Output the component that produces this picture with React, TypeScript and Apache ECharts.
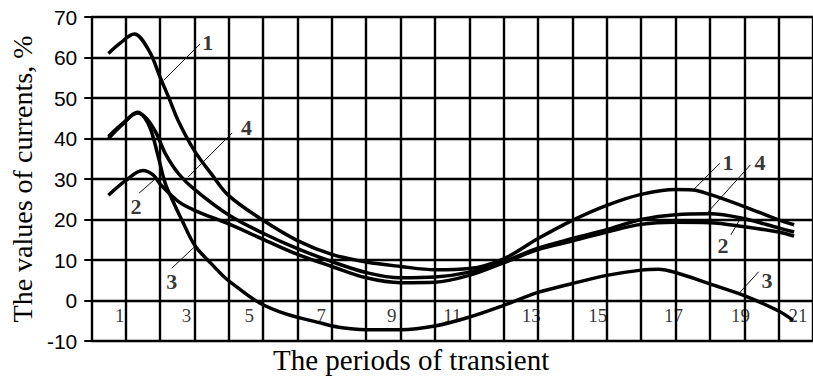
import React, { useEffect, useRef } from "react";
import * as echarts from "echarts";

// x is measured in grid cells (one cell = one vertical grid step), y in %
const curve1: [number, number][] = [
  [0.5, 61], [0.85, 63.6], [1.25, 65.8], [1.68, 61.7], [2.0, 55.2], [2.25, 50.2], [2.53, 44.4],
  [3.0, 37], [3.5, 31.2], [4, 25.9], [5, 19.8], [6, 14.8], [7, 11.4], [8, 9.5], [9, 8.4],
  [10, 7.6], [11, 7.9], [12, 10.3], [13, 15.3], [14, 19.8], [15, 23.5], [16, 26.2], [17, 27.4],
  [17.5, 27.3], [18, 26.2], [19, 23.2], [20, 19.9], [20.45, 18.7],
];
const curve2: [number, number][] = [
  [0.5, 26], [1.0, 29.6], [1.5, 32.1], [1.8, 31], [2.02, 28.6], [2.54, 24.4], [3.02, 22.2],
  [4, 18.9], [5, 15.1], [6, 11.4], [7, 8.4], [8, 5.6], [9, 4.4], [10, 4.5], [11, 6.2],
  [12, 9.3], [13, 12.6], [14, 14.7], [15, 16.9], [16, 18.8], [17, 19.3], [18, 19.2],
  [19, 18.2], [20, 16.9], [20.45, 15.9],
];
const curve3: [number, number][] = [
  [0.5, 40], [0.9, 43.4], [1.35, 46.5], [1.55, 45.2], [1.74, 42], [1.95, 35.5], [2.15, 29],
  [2.35, 25], [2.64, 19.8], [3.02, 13.5], [3.49, 9.1], [3.87, 5.8], [4.24, 3.3], [4.9, -0.6],
  [5.66, -3.3], [6.6, -5.4], [7.2, -6.6], [8, -7.2], [9, -7.2], [10, -6.3], [11, -4.1],
  [12, -1.2], [13, 2.0], [14, 4.2], [15, 6.2], [16, 7.5], [16.5, 7.7], [17, 6.9], [18, 4.1],
  [19, 1.2], [20, -2.6], [20.42, -4.9],
];
const curve4: [number, number][] = [
  [0.5, 40.5], [0.9, 43.6], [1.35, 46.3], [1.6, 45], [1.88, 41.5], [2.16, 36.2], [2.54, 31.3],
  [3.02, 27.3], [4, 21.1], [5, 16.6], [6, 12.8], [7, 9.6], [8, 6.9], [9, 5.6], [10, 5.8],
  [11, 7.0], [12, 9.6], [13, 12.9], [14, 15.3], [15, 17.5], [16, 20], [17, 21.2], [18, 21.4],
  [19, 20.2], [20, 17.9], [20.45, 16.9],
];

// period tick labels drawn inside the plot
const periodLabels = ["1", "3", "5", "7", "9", "11", "13", "15", "17", "19", "21"];
const periodLabelX = [0.83, 2.77, 4.6, 6.69, 8.74, 10.51, 12.8, 14.74, 16.94, 18.89, 20.56];
const periodLabelY = -3.8;

// curve labels: text, label position, leader start, leader end (on the curve)
const curveLabels: { text: string; at: [number, number]; from: [number, number]; to: [number, number] }[] = [
  { text: "1", at: [3.39, 63.8], from: [3.16, 63.3], to: [2.11, 54.4] },
  { text: "4", at: [4.52, 42.8], from: [4.1, 41.4], to: [2.82, 30.5] },
  { text: "2", at: [1.3, 23.2], from: [1.39, 26.5], to: [1.82, 29.7] },
  { text: "3", at: [2.34, 4.6], from: [2.34, 7.95], to: [3.01, 13.3] },
  { text: "1", at: [18.53, 34.0], from: [18.29, 33.9], to: [17.52, 27.3] },
  { text: "4", at: [19.46, 34.0], from: [19.18, 33.5], to: [17.95, 21.9] },
  { text: "2", at: [18.38, 13.7], from: [18.61, 16.2], to: [18.89, 20.3] },
  { text: "3", at: [19.66, 5.06], from: [19.42, 7.1], to: [18.85, 1.8] },
];

const yTitle = "The values of currents, %";
const xTitle = "The periods of transient";

export default function App() {
  const ref = useRef<HTMLDivElement>(null);
  useEffect(() => {
    if (!ref.current) return;
    const chart = echarts.init(ref.current, undefined, { renderer: "svg" });
    const curveSeries = [curve1, curve2, curve3, curve4].map((d, i) => ({
      type: "line",
      name: "curve" + (i + 1),
      data: d,
      smooth: 0.35,
      showSymbol: false,
      symbol: "none",
      lineStyle: { color: "#000", width: 3.5 },
      z: 5,
    }));
    const leaderSeries = curveLabels.map((c, i) => ({
      type: "line",
      name: "leader" + i,
      data: [c.from, c.to],
      symbol: "none",
      lineStyle: { color: "#111", width: 1 },
      z: 4,
    }));
    const gridLine = { show: true, lineStyle: { color: "#000000", width: 2.4, opacity: 1, type: "solid" } };
    chart.setOption({
      animation: false,
      backgroundColor: "#fff",
      grid: { left: 84, top: 17, width: 735, height: 324 },
      xAxis: {
        type: "value",
        min: 0,
        max: 21,
        interval: 1,
        axisLine: { show: true, onZero: false, lineStyle: { color: "#000", width: 2 } },
        axisTick: { show: false },
        axisLabel: { show: false },
        splitLine: gridLine,
      },
      yAxis: {
        type: "value",
        min: -10,
        max: 70,
        interval: 10,
        axisLine: { show: true, onZero: false, lineStyle: { color: "#000", width: 2 } },
        axisTick: { show: true, length: 7, lineStyle: { color: "#000", width: 2 } },
        axisLabel: { fontFamily: "Liberation Sans", fontSize: 21, color: "#000", margin: 14 },
        splitLine: gridLine,
        name: yTitle,
        nameLocation: "middle",
        nameRotate: 90,
        nameGap: 49,
        nameTextStyle: { fontFamily: "Liberation Serif", fontSize: 28, color: "#000" },
      },
      graphic: [
        {
          type: "text",
          left: 273,
          top: 345,
          style: { text: xTitle, font: "29px 'Liberation Serif'", fill: "#000" },
        },
      ],
      series: [
        ...curveSeries,
        ...leaderSeries,
        {
          type: "scatter",
          name: "curveLabels",
          data: curveLabels.map((c) => [c.at[0], c.at[1], c.text]),
          symbolSize: 0,
          z: 6,
          label: {
            show: true,
            position: "inside",
            formatter: (p: any) => p.value[2],
            fontFamily: "Liberation Serif",
            fontWeight: "bold",
            fontSize: 22,
            color: "#000",
          },
        },
        {
          type: "scatter",
          name: "periods",
          data: periodLabels.map((t, i) => [periodLabelX[i], periodLabelY, t]),
          symbolSize: 0,
          z: 6,
          label: {
            show: true,
            position: "inside",
            formatter: (p: any) => p.value[2],
            fontFamily: "Liberation Serif",
            fontSize: 19,
            color: "#000",
          },
        },
      ],
    });
    return () => chart.dispose();
  }, []);
  return (
    <div
      ref={ref}
      style={{ position: "fixed", left: 0, top: 0, width: 813, height: 380, background: "#fff" }}
    />
  );
}
